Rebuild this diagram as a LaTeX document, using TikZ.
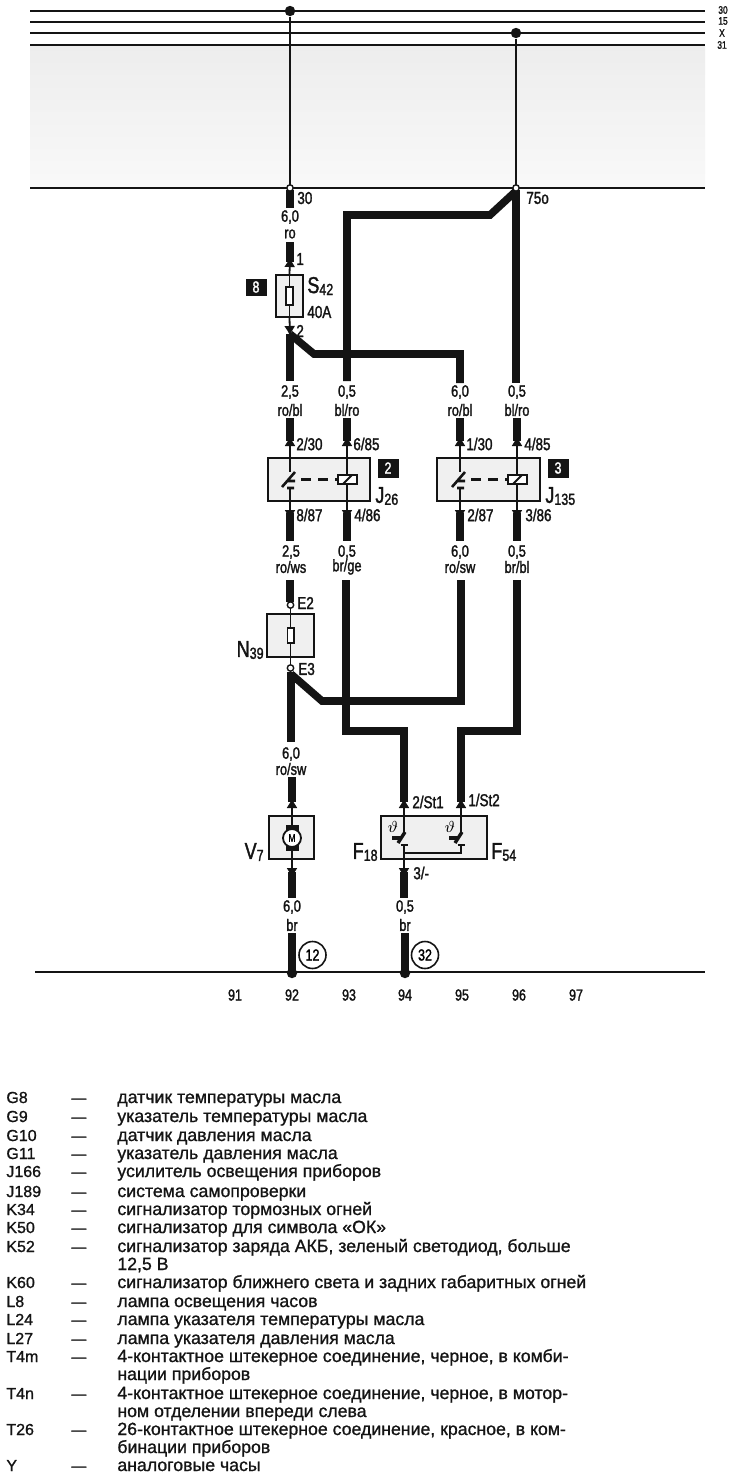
\documentclass[tikz,border=0pt]{standalone}
\usepackage{fontspec}
\setmainfont{Liberation Sans}
\newfontfamily\narrowf[FakeStretch=0.78,FakeBold=1.6]{Liberation Sans}
\newfontfamily\legendf[FakeBold=1.0]{Liberation Sans}
\usetikzlibrary{arrows.meta}
\definecolor{boxfill}{gray}{0.94}
\definecolor{ink}{gray}{0.08}
\tikzset{
  thick wire/.style={line width=3.8pt,draw=ink,line join=miter},
  thin wire/.style={line width=0.9pt,draw=ink},
  bold part/.style={line width=1.3pt,draw=ink},
  bus/.style={line width=1.1pt,draw=ink},
  busname/.style={font=\narrowf\fontsize{5.4}{6}\selectfont,text=ink,inner sep=0pt},
  wirelabel/.style={font=\narrowf\fontsize{8.2}{9}\selectfont,text=ink,inner sep=0pt},
  pinlabel/.style={font=\narrowf\fontsize{8.6}{9}\selectfont,text=ink,inner sep=0pt,anchor=west},
  partname/.style={font=\narrowf\fontsize{11.5}{12}\selectfont,text=ink,inner sep=0pt},
  device/.style={draw=ink,line width=0.8pt,fill=boxfill,inner sep=0pt},
  tagbox/.style={fill=ink,text=white,font=\narrowf\fontsize{8}{9}\selectfont,minimum width=10.5pt,minimum height=9.5pt,inner sep=0pt},
  refcircle/.style={draw=ink,line width=0.8pt,circle,minimum size=13.5pt,inner sep=0pt,font=\narrowf\fontsize{8}{9}\selectfont},
  joint/.style={circle,fill=ink,minimum size=5.2pt,inner sep=0pt},
  hollow/.style={circle,draw=ink,fill=white,line width=0.7pt,minimum size=3.2pt,inner sep=0pt},
  sheetnum/.style={font=\narrowf\fontsize{8}{9}\selectfont,text=ink,inner sep=0pt},
  legcode/.style={font=\legendf\fontsize{8}{9}\selectfont,text=ink,inner sep=0pt,anchor=base west},
  legdash/.style={font=\legendf\fontsize{7.5}{9}\selectfont,text=ink,inner sep=0pt,anchor=base west},
  legtext/.style={font=\legendf\fontsize{8.85}{10}\selectfont,text=ink,inner sep=0pt,anchor=base west},
  tip/.style={-{Latex[length=5pt,width=5.6pt]}},
}
\newcommand{\legrow}[3]{%
  \node[legcode] at (6,#1) {#2};
  \node[legdash] at (71,#1) {—};
  \node[legtext] at (117,#1) {#3};}
\newcommand{\legcont}[2]{\node[legtext] at (117,#1) {#2};}
\newcommand{\subs}[1]{\raisebox{-1pt}{\fontsize{8}{8}\selectfont #1}}
\begin{document}
\begin{tikzpicture}[x=0.5pt,y=-0.5pt]
\useasboundingbox (0,0) rectangle (737,1479);
\fill[white] (0,0) rectangle (737,1479);
% shaded zone
\shade[top color=gray!14,bottom color=gray!5] (30,46) rectangle (705,187);
% bus
\foreach \yy/\nm in {11/a,22/b,33/c,45/d}{
  \coordinate (bus\nm L) at (30,\yy);
  \coordinate (bus\nm R) at (705,\yy);
  \draw[bus] (bus\nm L) -- (bus\nm R);
}
\node[busname] (n30) at (723,10) {30};
\node[busname] (n15) at (723,21) {15};
\node[busname] (nX) at (722,33) {X};
\node[busname] (n31) at (722,45) {31};
\coordinate (cutL) at (30,188); \coordinate (cutR) at (705,188);
\draw[line width=1.2pt,draw=ink] (cutL) -- (cutR);
\coordinate (gndL) at (35,972); \coordinate (gndR) at (705,972);
\draw[line width=1.1pt,draw=ink] (gndL) -- (gndR);
% bus joints
\node[joint] (ja) at (290,11) {};
\node[joint] (jc) at (516,33) {};
\draw[thin wire] (ja) -- (290,188);
\draw[thin wire] (jc) -- (516,188);
% boxes
\node[device,minimum width=13.5pt,minimum height=21pt] (S42) at (289.5,296) {};
\node[device,minimum width=51pt,minimum height=21.5pt] (J26) at (319,479.5) {};
\node[device,minimum width=51.5pt,minimum height=21.5pt] (J135) at (488.5,479.5) {};
\node[device,minimum width=23.5pt,minimum height=21.5pt] (N39) at (290.5,635.5) {};
\node[device,minimum width=22.5pt,minimum height=21.5pt] (V7) at (291.5,837.5) {};
\node[device,minimum width=53pt,minimum height=21.5pt] (F18) at (434,837.5) {};
% S42
\coordinate (s1a) at (290,190); \coordinate (s1b) at (290,208);
\draw[thick wire] (s1a) -- (s1b);
\coordinate (s2a) at (290,242); \coordinate (s2b) at (290,262);
\draw[thick wire] (s2a) -- (s2b);
\draw[thin wire,tip] (S42.north) -- (290,257);
\draw[thin wire] (S42.north) -- (S42.south);
\draw[thin wire,fill=white] (286,287) rectangle (293,305);
\draw[thin wire,tip] (S42.south) -- (290,336);
% wiring harness top
\coordinate (t1) at (516,191); \coordinate (t2) at (490,215); \coordinate (t3) at (347,215); \coordinate (t4) at (347,381);
\draw[thick wire] (t1) -- (t2) -- (t3) -- (t4);
\coordinate (r1) at (516,190); \coordinate (r2) at (516,383);
\draw[thick wire] (r1) -- (r2);
\node[hollow] (h30) at (290,188) {};
\node[hollow] (h75) at (516,188) {};
\coordinate (u1) at (290,334); \coordinate (u2) at (290,381);
\draw[thick wire] (u1) -- (u2);
\coordinate (v1) at (290,334); \coordinate (v2) at (314,354); \coordinate (v3) at (460,354); \coordinate (v4) at (460,383);
\draw[thick wire] (v1) -- (v2) -- (v3) -- (v4);
% relays
\foreach \bx/\lx/\rx in {J26/290/347,J135/460/517}{
  \coordinate (\bx Ta) at (\lx,418); \coordinate (\bx Tb) at (\lx,441);
  \coordinate (\bx Tc) at (\rx,418); \coordinate (\bx Td) at (\rx,441);
  \coordinate (\bx Ba) at (\lx,513); \coordinate (\bx Bb) at (\lx,541);
  \coordinate (\bx Bc) at (\rx,513); \coordinate (\bx Bd) at (\rx,541);
  \draw[thick wire] (\bx Ta) -- (\bx Tb);
  \draw[thick wire] (\bx Tc) -- (\bx Td);
  \draw[thick wire] (\bx Ba) -- (\bx Bb);
  \draw[thick wire] (\bx Bc) -- (\bx Bd);
  \draw[thin wire,tip] (\lx,458) -- (\lx,436);
  \draw[thin wire,tip] (\rx,458) -- (\rx,436);
  \draw[thin wire,tip] (\lx,501) -- (\lx,520);
  \draw[thin wire,tip] (\rx,501) -- (\rx,520);
  % switch
  \draw[thin wire] (\lx,458) -- (\lx,472) (\lx,488) -- (\lx,501);
  \draw[bold part] (\lx+5,472) -- (\lx-8,487) (\lx-2,481) -- (\lx+5,481) (\lx-3,488) -- (\lx+4,488);
  \draw[bold part,dash pattern=on 5pt off 3.5pt] (\lx+11,479.5) -- (\rx-9,479.5);
  \draw[thin wire] (\rx,458) -- (\rx,475) (\rx,484) -- (\rx,501);
  \draw[bold part,fill=white] (\rx-9,475) rectangle (\rx+10,484);
  \draw[thin wire] (\rx-4,484) -- (\rx+5,475);
}
% lower harness
\coordinate (w1a) at (290,580); \coordinate (w1b) at (290,602);
\draw[thick wire] (w1a) -- (w1b);
\coordinate (w2a) at (291,672); \coordinate (w2b) at (291,742);
\draw[thick wire] (w2a) -- (w2b);
\coordinate (w3a) at (291,674); \coordinate (w3b) at (322,701); \coordinate (w3c) at (461,701); \coordinate (w3d) at (461,580);
\draw[thick wire] (w3a) -- (w3b) -- (w3c) -- (w3d);
\node[hollow] (hE2) at (290.5,605) {};
\node[hollow] (hE3) at (290.5,668) {};
\draw[thin wire] (hE2) -- (N39.north);
\draw[thin wire] (N39.south) -- (hE3);
\draw[thin wire] (N39.north) -- (N39.south);
\draw[thin wire,fill=white] (287.5,628) rectangle (294,643);
\coordinate (w4a) at (346,580); \coordinate (w4b) at (346,731); \coordinate (w4c) at (404,731); \coordinate (w4d) at (404,802);
\draw[thick wire] (w4a) -- (w4b) -- (w4c) -- (w4d);
\coordinate (w5a) at (517,580); \coordinate (w5b) at (517,731); \coordinate (w5c) at (461,731); \coordinate (w5d) at (461,802);
\draw[thick wire] (w5a) -- (w5b) -- (w5c) -- (w5d);
% V7
\coordinate (w6a) at (292,777); \coordinate (w6b) at (292,802);
\draw[thick wire] (w6a) -- (w6b);
\draw[thin wire,tip] (292,816) -- (292,798);
\draw[thin wire,tip] (292,859) -- (292,878);
\draw[thick wire] (292,872) -- (292,898);
\draw[thin wire] (292,816) -- (292,859);
\fill[ink] (285.5,825) rectangle (298.5,851);
\node[circle,draw=ink,line width=0.9pt,fill=white,minimum size=9pt,inner sep=0pt,font=\narrowf\fontsize{5.5}{6}\selectfont] (Vm) at (292,838) {M};
\coordinate (w7a) at (292,933); \coordinate (w7b) at (292,972);
\draw[line width=3.8pt,draw=ink] (w7a) -- (w7b);
\node[joint] (g1) at (292,973) {};
% F18 F54
\draw[thin wire,tip] (404,816) -- (404,798);
\draw[thin wire,tip] (461,816) -- (461,798);
\foreach \sx in {404,461}{
  \draw[thin wire] (\sx,816) -- (\sx,833);
  \draw[line width=1.7pt,draw=ink] (\sx+1,832) -- (\sx-6,843);
  \draw[line width=1.7pt,draw=ink] (\sx-12,838) -- (\sx-2,838);
  \node[font=\narrowf\fontsize{8}{8}\selectfont,inner sep=0pt] at (\sx-11,827) {$\vartheta$};
  \draw[bold part] (\sx-3.5,845) -- (\sx+3.5,845);
}
\draw[bold part] (404,845) -- (404,859) (404,853) -- (461,853) -- (461,845);
\draw[thin wire,tip] (404,859) -- (404,878);
\draw[thick wire] (404,872) -- (404,898);
\coordinate (w8a) at (405,933); \coordinate (w8b) at (405,972);
\draw[line width=3.8pt,draw=ink] (w8a) -- (w8b);
\node[joint] (g2) at (405,973) {};
% labels
\node[pinlabel] at (297,198) {30};
\node[pinlabel] at (526,198) {75o};
\node[wirelabel] at (290,217) {6,0};
\node[wirelabel] at (290,234) {ro};
\node[pinlabel] at (296,259) {1};
\node[pinlabel] at (296,331) {2};
\node[tagbox,minimum height=8.5pt] (tag8) at (256,287) {8};
\node[partname,anchor=west] at (307,286) {S\subs{42}};
\node[pinlabel] at (307,312) {40A};
\node[wirelabel] at (290,392) {2,5}; \node[wirelabel] at (290,410) {ro/bl};
\node[wirelabel] at (347,392) {0,5}; \node[wirelabel] at (347,410) {bl/ro};
\node[wirelabel] at (460,392) {6,0}; \node[wirelabel] at (460,410) {ro/bl};
\node[wirelabel] at (517,392) {0,5}; \node[wirelabel] at (517,410) {bl/ro};
\node[pinlabel] at (296,444) {2/30};
\node[pinlabel] at (353,444) {6/85};
\node[pinlabel] at (466,444) {1/30};
\node[pinlabel] at (524,444) {4/85};
\node[pinlabel] at (296,515) {8/87};
\node[pinlabel] at (354,515) {4/86};
\node[pinlabel] at (467,515) {2/87};
\node[pinlabel] at (525,515) {3/86};
\node[tagbox] (tag2) at (388,468) {2};
\node[tagbox] (tag3) at (558,468) {3};
\node[partname,anchor=west] at (375,496) {J\subs{26}};
\node[partname,anchor=west] at (545,496) {J\subs{135}};
\node[wirelabel] at (291,552) {2,5}; \node[wirelabel] at (291,567) {ro/ws};
\node[wirelabel] at (347,552) {0,5}; \node[wirelabel] at (347,567) {br/ge};
\node[wirelabel] at (460,552) {6,0}; \node[wirelabel] at (460,567) {ro/sw};
\node[wirelabel] at (517,552) {0,5}; \node[wirelabel] at (517,567) {br/bl};
\node[pinlabel] at (297,603) {E2};
\node[pinlabel] at (298,669) {E3};
\node[partname,anchor=east] at (264,650) {N\subs{39}};
\node[wirelabel] at (291,754) {6,0}; \node[wirelabel] at (291,769) {ro/sw};
\node[pinlabel] at (412,802) {2/St1};
\node[pinlabel] at (468,800) {1/St2};
\node[partname,anchor=east] at (264,852) {V\subs{7}};
\node[partname,anchor=east] at (378,852) {F\subs{18}};
\node[partname,anchor=west] at (491,852) {F\subs{54}};
\node[pinlabel] at (413,873) {3/-};
\node[wirelabel] at (292,907) {6,0}; \node[wirelabel] at (292,925) {br};
\node[wirelabel] at (405,907) {0,5}; \node[wirelabel] at (405,925) {br};
\node[refcircle] (c12) at (312.5,955) {12};
\node[refcircle] (c32) at (425,955) {32};
\foreach \nx/\nn in {235/91,292/92,349/93,405/94,462/95,519/96,576/97}{
  \node[sheetnum] at (\nx,995) {\nn};
}
% legend
\legrow{1103}{G8}{датчик температуры масла}
\legrow{1122}{G9}{указатель температуры масла}
\legrow{1141}{G10}{датчик давления масла}
\legrow{1159}{G11}{указатель давления масла}
\legrow{1177}{J166}{усилитель освещения приборов}
\legrow{1197}{J189}{система самопроверки}
\legrow{1215}{K34}{сигнализатор тормозных огней}
\legrow{1233}{K50}{сигнализатор для символа «ОК»}
\legrow{1252}{K52}{сигнализатор заряда АКБ, зеленый светодиод, больше}
\legcont{1270}{12,5 В}
\legrow{1288}{K60}{сигнализатор ближнего света и задних габаритных огней}
\legrow{1307}{L8}{лампа освещения часов}
\legrow{1325}{L24}{лампа указателя температуры масла}
\legrow{1344}{L27}{лампа указателя давления масла}
\legrow{1362}{T4m}{4-контактное штекерное соединение, черное, в комби-}
\legcont{1380}{нации приборов}
\legrow{1399}{T4n}{4-контактное штекерное соединение, черное, в мотор-}
\legcont{1417}{ном отделении впереди слева}
\legrow{1435}{T26}{26-контактное штекерное соединение, красное, в ком-}
\legcont{1453}{бинации приборов}
\legrow{1471}{Y}{аналоговые часы}
\end{tikzpicture}
\end{document}
